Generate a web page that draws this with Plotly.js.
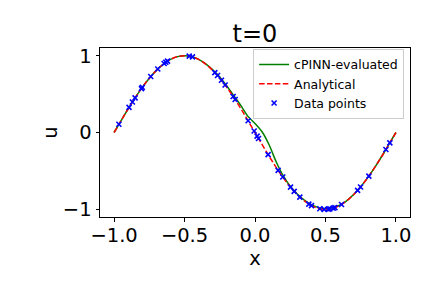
<!DOCTYPE html>
<html>
<head>
<meta charset="utf-8">
<script src="https://cdn.plot.ly/plotly-3.0.1.min.js"></script>
<style>html,body{margin:0;padding:0;background:#fff;}#chart{width:432px;height:288px;}</style>
</head>
<body>
<div id="chart"></div>
<script>
// Grid of x positions for the curves
var xGrid = [-1.00,-0.95,-0.90,-0.85,-0.80,-0.75,-0.70,-0.65,-0.60,-0.55,-0.50,-0.45,-0.40,-0.35,-0.30,-0.25,-0.20,-0.15,-0.10,-0.05,
             0.00,0.05,0.10,0.15,0.20,0.25,0.30,0.35,0.40,0.45,0.50,0.55,0.60,0.65,0.70,0.75,0.80,0.85,0.90,0.95,1.00];
// Analytical solution values
var uAnalytical = [0.000,0.156,0.309,0.454,0.588,0.707,0.809,0.891,0.951,0.988,1.000,0.988,0.951,0.891,0.809,0.707,0.588,0.454,0.309,0.156,
                   0.000,-0.156,-0.309,-0.454,-0.588,-0.707,-0.809,-0.891,-0.951,-0.988,-1.000,-0.988,-0.951,-0.891,-0.809,-0.707,-0.588,-0.454,-0.309,-0.156,0.000];
// cPINN-evaluated values
var uCPINN = [0.000,0.156,0.309,0.454,0.588,0.707,0.809,0.891,0.951,0.988,1.000,0.988,0.951,0.893,0.815,0.722,0.605,0.478,0.350,0.210,
              0.118,0.010,-0.160,-0.380,-0.562,-0.700,-0.800,-0.880,-0.940,-0.978,-0.990,-0.978,-0.947,-0.889,-0.808,-0.707,-0.588,-0.454,-0.309,-0.156,0.000];
// Data points
var xData = [-0.966,-0.894,-0.870,-0.851,-0.806,-0.800,-0.740,-0.690,-0.645,-0.633,-0.621,-0.467,-0.444,-0.285,-0.266,-0.238,-0.212,-0.155,-0.141,-0.049,
             -0.006,0.015,0.025,0.093,0.164,0.197,0.252,0.278,0.318,0.382,0.401,0.460,0.491,0.520,0.531,0.555,0.567,0.614,0.728,0.749,0.808,0.929,0.957];
var uData = [0.107,0.327,0.397,0.451,0.572,0.588,0.729,0.827,0.898,0.914,0.929,0.995,0.985,0.780,0.742,0.680,0.618,0.468,0.429,0.153,
             0.019,-0.047,-0.078,-0.288,-0.493,-0.580,-0.711,-0.767,-0.841,-0.932,-0.952,-0.992,-1.000,-0.998,-0.995,-0.985,-0.978,-0.937,-0.754,-0.709,-0.567,-0.221,-0.135];
var xTicks = [-1.0,-0.5,0.0,0.5,1.0];
var yTicks = [-1,0,1];

var font = 'DejaVu Sans, sans-serif';
var traces = [
  {x:xGrid, y:uCPINN, mode:'lines', name:'cPINN-evaluated', line:{color:'#008000', width:1.5, shape:'spline', smoothing:0.6}},
  {x:xGrid, y:uAnalytical, mode:'lines', name:'Analytical', line:{color:'#ff0000', width:1.5, dash:'5.5px,2.4px', shape:'spline'}},
  {x:xData, y:uData, mode:'markers', name:'Data points', marker:{symbol:'x-thin', size:5, color:'#0000ff', line:{color:'#0000ff', width:1.6}}}
];
var axisCommon = {showline:true, mirror:true, linecolor:'#000', linewidth:1, ticks:'outside', ticklen:3.5, tickwidth:1, tickcolor:'#000',
  showgrid:false, zeroline:false, tickfont:{family:font, size:19.5, color:'#000'}};
var layout = {
  width:432, height:288,
  margin:{l:100, r:22, t:48, b:71, pad:0},
  paper_bgcolor:'#fff', plot_bgcolor:'#fff',
  title:{text:'t=0', font:{family:font, size:24, color:'#000'}, x:0.59, xanchor:'center', y:0.885, yanchor:'middle'},
  xaxis:Object.assign({}, axisCommon, {range:[-1.1,1.1], tickvals:xTicks, tickformat:'.1f', ticklabelstandoff:-3,
    title:{text:'x', font:{family:font, size:19.5, color:'#000'}, standoff:0}}),
  yaxis:Object.assign({}, axisCommon, {range:[-1.1,1.1], tickvals:yTicks, tickformat:'d',
    title:{text:'u', font:{family:font, size:19.5, color:'#000'}, standoff:0}}),
  showlegend:true,
  legend:{x:0.981, y:0.995, xanchor:'right', yanchor:'top', bgcolor:'rgba(255,255,255,0.8)', bordercolor:'#cccccc', borderwidth:1,
    font:{family:font, size:12.5, color:'#000'}, tracegroupgap:0, itemwidth:30}
};
Plotly.newPlot('chart', traces, layout, {staticPlot:true, displayModeBar:false});
</script>
</body>
</html>
